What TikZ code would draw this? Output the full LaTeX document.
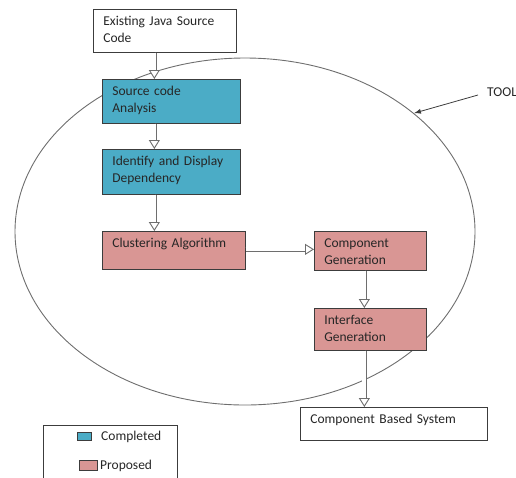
\documentclass[tikz,border=0pt]{standalone}
\usepackage{fontspec}
\setmainfont{Carlito}
\usetikzlibrary{shapes.geometric,arrows.meta}
\definecolor{cblue}{RGB}{75,172,198}
\definecolor{cpink}{RGB}{217,150,148}
\definecolor{edge}{RGB}{60,60,60}
\definecolor{ellc}{RGB}{110,110,110}
\tikzset{
  bx/.style={draw=edge, line width=0.7pt, rectangle, anchor=north west, align=left,
    inner xsep=10pt, inner ysep=0pt, text height=16.5pt, font=\fontsize{13.5}{17}\selectfont, text=black!85},
  bluebox/.style={bx, fill=cblue},
  pinkbox/.style={bx, fill=cpink},
  whitebox/.style={bx, fill=white},
  shaftouter/.style={draw=ellc, line width=5.6pt, shorten >=6pt},
  shaftinner/.style={draw=white, line width=3.8pt, shorten >=5pt},
  dblhead/.style={draw=white, line width=3.8pt,
    -{Triangle[color=ellc, fill=white, length=9pt, width=11pt, line width=0.9pt]}},
  lbl/.style={font=\fontsize{13.5}{17}\selectfont, text=black!85, inner sep=0pt, anchor=west}
}
\newcommand{\dblarrow}[2]{%
  \draw[shaftouter] #1 -- #2;
  \draw[shaftinner] #1 -- #2;
  \draw[dblhead] #1 -- #2;}
\begin{document}
\begin{tikzpicture}[x=1pt,y=-1pt]
\useasboundingbox (0,0) rectangle (516,477);
\clip (0,0) rectangle (516,477);
% tool ellipse
\node[ellipse, draw=ellc, line width=0.9pt, minimum width=460pt, minimum height=347pt, inner sep=0pt] (tool ellipse) at (245,231.5) {};
% boxes
\node[whitebox, text width=123pt, text depth=26.5pt] (java) at (93,9) {Existing Java Source\\Code};
\node[bluebox, text width=118pt, text depth=27.5pt] (src) at (102,79) {Source code\\Analysis};
\node[bluebox, text width=118pt, text depth=28.5pt] (ident) at (102,149) {Identify and Display\\Dependency};
\node[pinkbox, text width=123pt, text depth=21.5pt] (clust) at (102,231) {Clustering Algorithm};
\node[pinkbox, text width=92pt, text depth=22.5pt] (comp) at (314,231) {Component\\Generation};
\node[pinkbox, text width=92pt, text depth=25.5pt] (iface) at (314,308) {Interface\\Generation};
\node[whitebox, text width=167pt, text depth=16.5pt] (cbs) at (300,407) {Component Based System};
% arrows
\dblarrow{([xshift=-10.5pt]java.south)}{([xshift=-17pt]src.north)}
\dblarrow{([xshift=-17pt]src.south)}{([xshift=-17pt]ident.north)}
\dblarrow{([xshift=-17pt]ident.south)}{([xshift=-19.5pt]clust.north)}
\dblarrow{([yshift=1pt]clust.east)}{([yshift=1.5pt]comp.west)}
\dblarrow{([xshift=-6pt]comp.south)}{([xshift=-6pt]iface.north)}
\dblarrow{([xshift=-6pt]iface.south)}{([xshift=-29.5pt]cbs.north)}
% TOOL label
\node[lbl] (tool) at (487,92) {TOOL};
\draw[draw=edge, line width=0.8pt, -{Latex[length=7pt, width=5pt]}] ([xshift=-9pt,yshift=-3pt]tool.west) -- (tool ellipse.35.3);
% legend
\node[draw=edge, line width=0.7pt, anchor=north west, minimum width=134pt, minimum height=70pt, inner sep=0pt] (legend) at (43,425) {};
\node[draw=edge, line width=0.7pt, fill=cblue, anchor=north west, minimum width=14pt, minimum height=8pt, inner sep=0pt] (kblue) at (77,432) {};
\node[draw=edge, line width=0.7pt, fill=cpink, anchor=north west, minimum width=18pt, minimum height=10pt, inner sep=0pt] (kpink) at (79,460) {};
\node[lbl] (tcomp) at (101,437) {Completed};
\node[lbl] (tprop) at (100,466) {Proposed};
\end{tikzpicture}
\end{document}
